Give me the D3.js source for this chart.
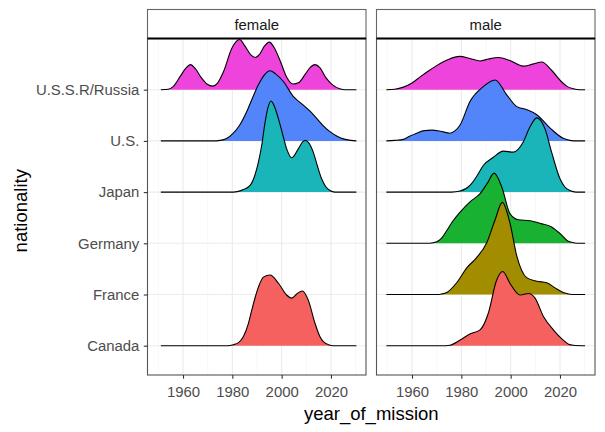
<!DOCTYPE html>
<html><head><meta charset="utf-8">
<script src="https://cdn.jsdelivr.net/npm/d3@7"></script>
<style>body{margin:0;background:#fff}svg{display:block;font-family:"Liberation Sans",Arial,Helvetica,sans-serif}</style>
</head><body><svg id="c" width="605" height="432"></svg>
<script>
// ---- data ----
const categories = ["Canada","France","Germany","Japan","U.S.","U.S.S.R/Russia"];
const panels = ["female","male"];
const fillColors = ["#F4615E","#A28C00","#19B131","#1AB5B8","#5185F9","#EE44DB"];
const xTicks = [1960,1980,2000,2020];
const xMinor = [1950,1970,1990,2010,2030];

// [year, ridge height in row units]
const femaleRussia = [[1951,0],[1954,0.01],[1956,0.06],[1959,0.27],[1961,0.41],[1963,0.49],[1965,0.41],[1967.5,0.23],[1970,0.1],[1972,0.07],[1974,0.13],[1976.4,0.35],[1979.7,0.8],[1981.5,0.94],[1983,0.98],[1985,0.86],[1987.5,0.68],[1989.3,0.63],[1991,0.69],[1993,0.85],[1995,0.93],[1997,0.82],[1999.5,0.55],[2002,0.25],[2004.7,0.11],[2007,0.14],[2009.5,0.3],[2011.5,0.43],[2013.5,0.49],[2015.5,0.43],[2018,0.23],[2020.5,0.1],[2023.5,0.02],[2026,0],[2030.3,0]];
const femaleUS = [[1951,0],[1972,0],[1975,0.01],[1977.5,0.04],[1980.4,0.15],[1983,0.31],[1985.8,0.57],[1988,0.82],[1990.5,1.09],[1993,1.29],[1995.3,1.37],[1997.5,1.31],[2000.7,1.16],[2004.7,0.87],[2008.8,0.7],[2011.5,0.58],[2014.2,0.44],[2017,0.29],[2019.6,0.18],[2022.5,0.09],[2025,0.04],[2028,0.01],[2030.3,0]];
const femaleJapan = [[1951,0],[1979,0],[1982,0.01],[1984.5,0.05],[1987.2,0.13],[1989,0.31],[1990.6,0.59],[1992,0.94],[1993.3,1.37],[1994.5,1.66],[1995.7,1.78],[1997,1.68],[1998.7,1.43],[2000.5,1.11],[2002,0.85],[2004.1,0.67],[2006.8,0.85],[2008.5,0.98],[2009.7,1.01],[2011,0.96],[2012.8,0.78],[2014.5,0.51],[2016.2,0.26],[2018,0.1],[2019.6,0.03],[2021.5,0],[2030.3,0]];
const femaleCanada = [[1951,0],[1978,0],[1980.4,0.02],[1982.5,0.06],[1984.5,0.18],[1986.5,0.43],[1987.9,0.7],[1990.6,1.15],[1992.6,1.34],[1995.3,1.38],[1998.7,1.22],[2002,0.99],[2004.1,0.93],[2006.1,1.01],[2008.4,1.07],[2010.8,0.89],[2013.5,0.44],[2015.5,0.18],[2016.9,0.08],[2019.6,0.01],[2022,0],[2030.3,0]];

const maleRussia = [[1949.6,0],[1953,0.01],[1956.5,0.05],[1960,0.13],[1963.3,0.25],[1966.5,0.36],[1970,0.47],[1974.7,0.59],[1979.2,0.65],[1983.5,0.61],[1987.6,0.56],[1991,0.6],[1995,0.63],[1999.7,0.57],[2005.1,0.46],[2009,0.5],[2012.6,0.54],[2016.6,0.38],[2020.7,0.15],[2023,0.06],[2025.4,0.02],[2028,0],[2030.2,0]];
const maleUS = [[1949.6,0],[1953,0.01],[1956.5,0.03],[1959,0.09],[1961.9,0.15],[1965,0.2],[1968,0.21],[1971.5,0.19],[1975.4,0.15],[1977.5,0.2],[1979.5,0.31],[1983.5,0.77],[1988.9,1.06],[1993.7,1.19],[1998.4,0.9],[2002.5,0.67],[2006.5,0.61],[2010.6,0.51],[2016,0.25],[2021.3,0.05],[2024,0.01],[2027,0],[2030.2,0]];
const maleJapan = [[1949.6,0],[1976,0],[1979.5,0.02],[1983.5,0.13],[1986,0.29],[1988.9,0.52],[1993,0.68],[1997,0.8],[2001.1,0.78],[2005.1,0.98],[2007.8,1.27],[2010.6,1.45],[2013.9,1.24],[2016.6,0.78],[2020,0.26],[2022,0.1],[2024,0.03],[2026.5,0],[2030.2,0]];
const maleGermany = [[1949.6,0],[1966,0],[1968.5,0.01],[1970,0.03],[1972,0.1],[1974.1,0.25],[1976.5,0.43],[1979.5,0.61],[1983.5,0.81],[1987.6,0.97],[1990.5,1.17],[1993.3,1.37],[1996.4,1.1],[1999.7,0.58],[2003.1,0.46],[2007.8,0.44],[2012.6,0.38],[2016.6,0.32],[2020.7,0.16],[2023,0.05],[2024.7,0.02],[2027,0],[2030.2,0]];
const maleFrance = [[1949.6,0],[1970,0],[1972,0.01],[1974.1,0.04],[1978.1,0.23],[1982.2,0.52],[1986.2,0.72],[1990.3,1.01],[1993.7,1.46],[1996.6,1.8],[1999.7,1.4],[2002.5,0.75],[2006.5,0.33],[2010.6,0.26],[2014.6,0.23],[2018,0.13],[2020.5,0.06],[2022.7,0.02],[2025,0],[2030.2,0]];
const maleCanada = [[1949.6,0],[1972,0],[1975.4,0.01],[1979.5,0.11],[1983.5,0.23],[1987.6,0.31],[1990.9,0.63],[1994.3,1.28],[1996.8,1.45],[1999.7,1.22],[2003.8,0.99],[2007.2,1.02],[2009.9,0.93],[2013.3,0.57],[2017.3,0.31],[2021.3,0.11],[2023.5,0.03],[2025.4,0.01],[2030.2,0]];

const ridgeData = {
  female: {"Canada": femaleCanada, "Japan": femaleJapan, "U.S.": femaleUS, "U.S.S.R/Russia": femaleRussia},
  male: {"Canada": maleCanada, "France": maleFrance, "Germany": maleGermany, "Japan": maleJapan, "U.S.": maleUS, "U.S.S.R/Russia": maleRussia}
};

// ---- layout ----
const svg = d3.select("#c");
const panelX = [147.5, 376.5], panelW = 218.5;
const stripTop = 9.5, panelTop = 38.5, panelBot = 375;
const panelH = panelBot - panelTop;
const x = d3.scaleLinear().domain([1945.6, 2034.2]).range([0, panelW]);
const y = d3.scaleLinear().domain([0.428, 7.0]).range([panelH, 0]);
const catPos = c => categories.indexOf(c) + 1;
const tickFont = 14.9;

panels.forEach((p, pi) => {
  const g = svg.append("g").attr("transform", `translate(${panelX[pi]},${panelTop})`);
  g.append("rect").attr("width", panelW).attr("height", panelH).attr("fill", "#fff");
  const clipId = "clip" + pi;
  g.append("clipPath").attr("id", clipId).append("rect").attr("width", panelW).attr("height", panelH);
  // grid
  g.selectAll(".minor").data(xMinor).join("line")
    .attr("x1", d => x(d)).attr("x2", d => x(d)).attr("y1", 0).attr("y2", panelH)
    .attr("stroke", "#F2F2F2").attr("stroke-width", 0.6);
  g.selectAll(".majx").data(xTicks).join("line")
    .attr("x1", d => x(d)).attr("x2", d => x(d)).attr("y1", 0).attr("y2", panelH)
    .attr("stroke", "#EBEBEB").attr("stroke-width", 1.1);
  g.selectAll(".majy").data(categories).join("line")
    .attr("x1", 0).attr("x2", panelW).attr("y1", d => y(catPos(d))).attr("y2", d => y(catPos(d)))
    .attr("stroke", "#EBEBEB").attr("stroke-width", 1.1);
  // ridges: top row first so lower rows overlap
  const rg = g.append("g").attr("clip-path", `url(#${clipId})`);
  const order = categories.slice().reverse();
  order.forEach(c => {
    const data = ridgeData[p][c];
    if (!data) return;
    const base = catPos(c);
    const col = fillColors[categories.indexOf(c)];
    const area = d3.area().curve(d3.curveMonotoneX)
      .x(d => x(d[0])).y0(y(base)).y1(d => y(base + d[1]));
    const line = d3.line().curve(d3.curveMonotoneX)
      .x(d => x(d[0])).y(d => y(base + d[1]));
    rg.append("path").attr("d", area(data)).attr("fill", col);
    rg.append("path").attr("d", line(data)).attr("fill", "none")
      .attr("stroke", "#000").attr("stroke-width", 1.1);
  });
  // border
  g.append("rect").attr("width", panelW).attr("height", panelH)
    .attr("fill", "none").attr("stroke", "#555").attr("stroke-width", 1.1);
  // strip
  const s = svg.append("g").attr("transform", `translate(${panelX[pi]},${stripTop})`);
  s.append("rect").attr("width", panelW).attr("height", panelTop - stripTop)
    .attr("fill", "#fff").attr("stroke", "#666").attr("stroke-width", 1.1);
  s.append("line").attr("x1", 0).attr("x2", panelW).attr("y1", panelTop - stripTop).attr("y2", panelTop - stripTop)
    .attr("stroke", "#000").attr("stroke-width", 1.8);
  s.append("text").attr("x", panelW / 2).attr("y", 20.5).attr("text-anchor", "middle")
    .attr("font-size", tickFont).attr("fill", "#1A1A1A").text(p);
  // x axis
  const ax = svg.append("g").attr("transform", `translate(${panelX[pi]},${panelBot})`)
    .call(d3.axisBottom(x).tickValues(xTicks).tickFormat(d3.format("d")).tickSize(3.7).tickPadding(7.4));
  ax.select(".domain").remove();
  ax.selectAll(".tick line").attr("stroke", "#333").attr("stroke-width", 1.1);
  ax.selectAll(".tick text").attr("fill", "#4D4D4D").attr("font-size", tickFont).attr("font-family", null);
  if (pi === 0) {
    const ay = svg.append("g").attr("transform", `translate(${panelX[0]},${panelTop})`)
      .call(d3.axisLeft(d3.scalePoint().domain(categories).range([y(1), y(6)])).tickSize(3.7).tickPadding(4.5));
    ay.select(".domain").remove();
    ay.selectAll(".tick line").attr("stroke", "#333").attr("stroke-width", 1.1);
    ay.selectAll(".tick text").attr("fill", "#4D4D4D").attr("font-size", tickFont).attr("font-family", null);
  }
});

svg.append("text").attr("x", (panelX[0] + panelX[1] + panelW) / 2).attr("y", 420)
  .attr("text-anchor", "middle").attr("font-size", 18.5).attr("fill", "#000").text("year_of_mission");
svg.append("text").attr("transform", `translate(27,${(panelTop + panelBot) / 2 + 4}) rotate(-90)`)
  .attr("text-anchor", "middle").attr("font-size", 18.5).attr("fill", "#000").text("nationality");
</script></body></html>
